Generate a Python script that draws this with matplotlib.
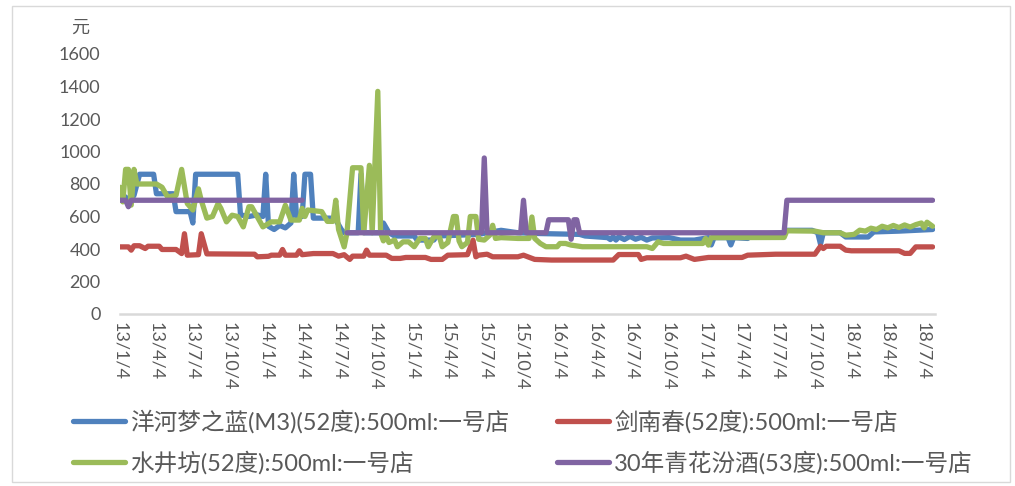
import numpy as np
import pandas as pd
import matplotlib
matplotlib.use("Agg")
import matplotlib.pyplot as plt
from matplotlib.patches import Rectangle

plt.rcParams['font.family'] = ['Lato', 'Noto Sans CJK SC', 'DejaVu Sans']

# ---------------- data ----------------
series_names = ['洋河梦之蓝(M3)(52度):500ml:一号店',
                '剑南春(52度):500ml:一号店',
                '水井坊(52度):500ml:一号店',
                '30年青花汾酒(53度):500ml:一号店']

blue_dates = ['2013-01-04','2013-01-18','2013-01-25','2013-02-08','2013-02-22','2013-03-29','2013-04-05','2013-05-17',
              '2013-05-24','2013-06-28','2013-07-05','2013-07-12','2013-10-25','2013-11-01','2013-11-22','2013-12-13',
              '2013-12-27','2014-01-03','2014-01-10','2014-01-24','2014-02-07','2014-02-21','2014-03-07','2014-03-14',
              '2014-03-21','2014-04-04','2014-04-11','2014-04-25','2014-05-02','2014-06-13','2014-06-27','2014-07-11',
              '2014-07-18','2014-08-22','2014-08-29','2014-09-05','2014-10-17','2014-10-24','2014-11-07','2014-11-21',
              '2015-01-09','2015-01-16','2015-02-27','2015-03-06','2015-05-01','2015-06-19','2015-07-10','2015-08-14',
              '2015-09-25','2015-11-20','2016-02-26','2016-03-11','2016-05-06','2016-05-13','2016-05-20','2016-05-27',
              '2016-06-03','2016-06-17','2016-07-01','2016-07-15','2016-07-29','2016-08-12','2016-08-26','2016-10-07',
              '2016-11-04','2016-12-09','2017-01-13','2017-01-20','2017-01-27','2017-03-03','2017-03-10','2017-03-17',
              '2017-04-21','2017-05-05','2017-07-21','2017-07-28','2017-09-29','2017-10-13','2017-10-20','2017-10-27',
              '2017-12-08','2017-12-22','2018-02-16','2018-03-02','2018-05-04','2018-07-27']
blue_vals = [730, 720, 690, 730, 860, 860, 740, 740,
             630, 630, 560, 860, 860, 610, 600, 610,
             600, 860, 540, 520, 545, 530, 560, 860,
             600, 600, 860, 860, 590, 590, 580, 520,
             500, 500, 860, 500, 500, 560, 500, 480,
             480, 455, 455, 480, 485, 490, 500, 515,
             500, 495, 490, 480, 470, 458, 475, 455,
             475, 458, 478, 460, 472, 455, 468, 470,
             455, 455, 470, 425, 470, 470, 425, 470,
             465, 490, 500, 515, 515, 500, 430, 500,
             500, 474, 474, 505, 510, 520]

red_dates = ['2013-01-04','2013-01-25','2013-02-01','2013-02-08','2013-02-22','2013-03-08','2013-03-15','2013-04-12',
             '2013-04-19','2013-05-24','2013-06-07','2013-06-14','2013-06-21','2013-07-19','2013-07-26','2013-08-09',
             '2013-12-06','2013-12-13','2014-01-10','2014-01-17','2014-02-07','2014-02-14','2014-02-21','2014-03-21',
             '2014-03-28','2014-04-04','2014-05-02','2014-06-20','2014-07-04','2014-07-18','2014-07-25','2014-08-01',
             '2014-08-08','2014-09-05','2014-09-12','2014-09-19','2014-10-31','2014-11-14','2014-12-05','2014-12-19',
             '2015-02-06','2015-02-20','2015-03-20','2015-04-03','2015-05-22','2015-06-05','2015-06-12','2015-06-19',
             '2015-07-10','2015-07-24','2015-09-25','2015-10-09','2015-11-06','2015-12-18','2016-05-20','2016-06-03',
             '2016-07-22','2016-07-29','2016-08-12','2016-11-04','2016-11-18','2016-12-09','2017-01-13','2017-04-07',
             '2017-04-21','2017-06-30','2017-10-06','2017-10-20','2017-10-27','2017-11-03','2017-12-08','2017-12-22',
             '2018-01-05','2018-05-04','2018-05-18','2018-06-01','2018-06-15','2018-07-27']
red_vals = [413, 413, 393, 420, 420, 403, 417, 417,
            397, 397, 372, 494, 362, 365, 494, 370,
            368, 352, 355, 362, 362, 397, 362, 362,
            389, 365, 372, 372, 356, 365, 350, 336,
            356, 356, 393, 362, 362, 342, 342, 348,
            348, 336, 336, 362, 365, 454, 352, 362,
            368, 352, 352, 362, 336, 332, 332, 366,
            366, 336, 346, 346, 356, 336, 348, 348,
            362, 368, 368, 417, 403, 417, 417, 393,
            389, 389, 373, 373, 413, 413]

green_dates = ['2013-01-04','2013-01-11','2013-01-18','2013-01-25','2013-02-01','2013-02-08','2013-02-15','2013-04-05',
               '2013-04-19','2013-05-03','2013-05-24','2013-06-07','2013-06-21','2013-07-05','2013-07-19','2013-07-26',
               '2013-08-09','2013-08-23','2013-09-06','2013-09-13','2013-09-27','2013-10-11','2013-10-25','2013-11-08',
               '2013-11-22','2013-11-29','2013-12-27','2014-01-17','2014-02-07','2014-02-21','2014-03-07','2014-03-28',
               '2014-04-04','2014-04-11','2014-04-18','2014-05-23','2014-06-06','2014-06-20','2014-06-27','2014-07-04',
               '2014-07-18','2014-07-25','2014-08-08','2014-08-29','2014-09-05','2014-09-19','2014-09-26','2014-10-10',
               '2014-10-17','2014-10-24','2014-10-31','2014-11-07','2014-11-21','2014-11-28','2014-12-12','2014-12-26',
               '2015-01-09','2015-01-23','2015-02-06','2015-02-13','2015-02-27','2015-03-13','2015-03-20','2015-04-03',
               '2015-04-17','2015-04-24','2015-05-01','2015-05-08','2015-05-22','2015-05-29','2015-06-12','2015-06-19',
               '2015-07-03','2015-07-17','2015-07-24','2015-07-31','2015-08-14','2015-09-25','2015-10-23','2015-10-30',
               '2015-11-06','2015-11-20','2015-12-04','2016-01-01','2016-01-08','2016-01-22','2016-02-05','2016-03-04',
               '2016-08-12','2016-08-26','2016-09-09','2016-09-23','2016-12-30','2017-01-06','2017-01-13','2017-01-20',
               '2017-07-21','2017-07-28','2017-10-06','2017-10-27','2017-12-08','2017-12-22','2018-01-12','2018-01-26',
               '2018-02-09','2018-02-23','2018-03-09','2018-03-23','2018-04-06','2018-04-20','2018-05-04','2018-05-18',
               '2018-06-01','2018-06-15','2018-06-29','2018-07-06','2018-07-13','2018-07-27']
green_vals = [780, 690, 890, 890, 670, 890, 800, 800,
              780, 720, 730, 890, 680, 640, 770, 700,
              590, 600, 680, 650, 567, 608, 600, 536,
              660, 660, 536, 567, 567, 669, 578, 578,
              650, 600, 640, 630, 570, 570, 700, 520,
              413, 500, 900, 900, 500, 915, 500, 1370,
              500, 450, 480, 440, 455, 414, 444, 444,
              414, 465, 465, 414, 475, 475, 414, 440,
              600, 600, 450, 414, 440, 600, 600, 460,
              455, 486, 546, 465, 470, 465, 465, 597,
              465, 434, 414, 414, 434, 434, 424, 414,
              414, 403, 444, 434, 434, 465, 424, 470,
              471, 512, 510, 500, 500, 485, 490, 516,
              510, 528, 520, 540, 530, 545, 532, 548,
              535, 550, 560, 530, 565, 540]

purple_dates = ['2013-01-04','2013-01-18','2013-01-25','2013-02-01','2014-04-04','2014-05-16','2014-07-25','2015-06-26',
                '2015-07-03','2015-07-10','2015-10-02','2015-10-09','2015-10-16','2015-12-04','2015-12-11','2016-01-29',
                '2016-02-05','2016-02-12','2016-02-19','2016-02-26','2017-07-21','2017-07-28','2018-07-27']
purple_vals = [700, 700, 660, 700, 700, np.nan, 500, 500,
               960, 500, 500, 700, 500, 500, 580, 580,
               460, 580, 580, 500, 500, 700, 700]

tick_labels = ['13/1/4','13/4/4','13/7/4','13/10/4','14/1/4','14/4/4','14/7/4','14/10/4',
               '15/1/4','15/4/4','15/7/4','15/10/4','16/1/4','16/4/4','16/7/4','16/10/4',
               '17/1/4','17/4/4','17/7/4','17/10/4','18/1/4','18/4/4','18/7/4']
y_ticks = [0, 200, 400, 600, 800, 1000, 1200, 1400, 1600]

colors = ['#4F81BD', '#C0504D', '#9BBB59', '#8064A2']
# --------------------------------------

W, H = 1015, 486
fig = plt.figure(figsize=(W/100, H/100), dpi=100)
fig.patches.append(Rectangle((12/W, 4/H), 998/W, 476/H, transform=fig.transFigure,
                             fill=False, edgecolor='#d9d9d9', linewidth=1.0))

ax = fig.add_axes([120/W, 1-314/H, 815/W, 260/H])

all_series = [(blue_dates, blue_vals), (red_dates, red_vals),
              (green_dates, green_vals), (purple_dates, purple_vals)]
handles = []
for (d, v), c, n in zip(all_series, colors, series_names):
    ln, = ax.plot(pd.to_datetime(d), v, color=c, lw=3.8, solid_joinstyle='round',
                  solid_capstyle='round', label=n)
    handles.append(ln)

tick_dates = pd.to_datetime(['20' + t for t in tick_labels], format='%Y/%m/%d')
ax.set_xticks(tick_dates)
ax.set_xticklabels(tick_labels, rotation=270, ha='center', va='top')
ax.set_xlim(pd.Timestamp('2013-01-04'), pd.Timestamp('2018-08-02'))
ax.set_ylim(0, 1600)
ax.set_yticks(y_ticks)
ax.set_yticklabels([str(t) for t in y_ticks])

for s in ['top', 'right', 'left']:
    ax.spines[s].set_visible(False)
ax.spines['bottom'].set_color('#d9d9d9')
ax.spines['bottom'].set_linewidth(1.8)
ax.spines['bottom'].set_zorder(0)
ax.tick_params(axis='both', length=0, colors='#595959', labelsize=13)
ax.tick_params(axis='y', pad=14)
ax.tick_params(axis='x', pad=6)

fig.text(80/W, 1-28/H, '元', fontsize=13, color='#595959', ha='center', va='center')

order = [0, 2, 1, 3]
leg = fig.legend([handles[i] for i in order], [series_names[i] for i in order],
                 loc='upper left', bbox_to_anchor=(73/W, 1-410/H), ncol=2,
                 frameon=False, borderpad=0, borderaxespad=0, fontsize=17,
                 handlelength=2.2, handletextpad=0.2, columnspacing=2.05,
                 labelspacing=0.72, labelcolor='#595959')
for lh in leg.get_lines():
    lh.set_linewidth(3.8)

fig.savefig('out.png', dpi=100)
